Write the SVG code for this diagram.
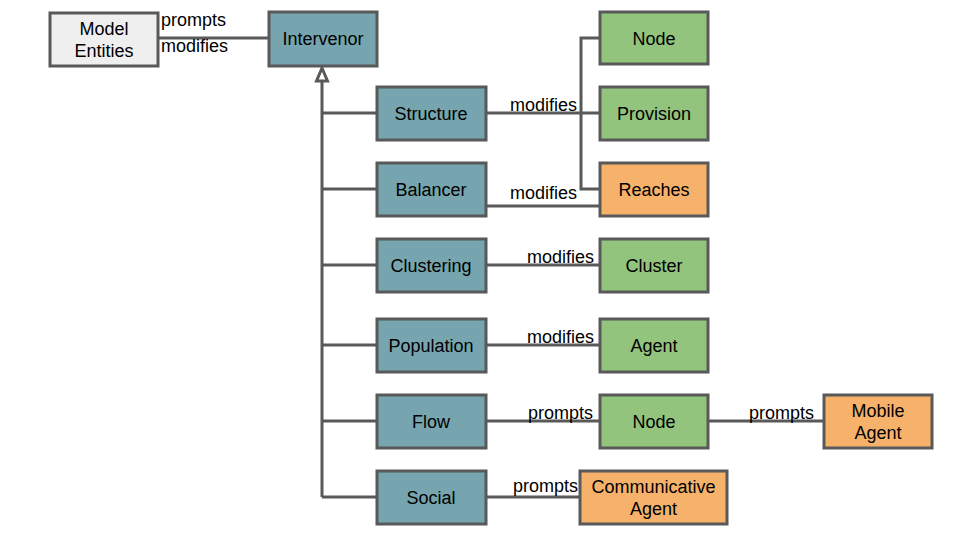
<svg xmlns="http://www.w3.org/2000/svg" width="960" height="540" viewBox="0 0 960 540">
<style>
.b{stroke:#595959;stroke-width:3}
.t{fill:#76A5AF}.g{fill:#93C47D}.o{fill:#F6B26B}.w{fill:#EFEFEF}
text{font-family:"Liberation Sans",Arial,sans-serif;font-size:18px;fill:#000}
.c{text-anchor:middle}
.l{fill:none;stroke:#595959;stroke-width:3}
</style>
<rect width="960" height="540" fill="#fff"/>
<g id="connectors">
<path class="l" d="M158 38H269"/>
<path class="l" d="M322 82V497"/>
<path d="M322 68L316.5 81H327.5Z" fill="#fff" stroke="#595959" stroke-width="3" stroke-linejoin="miter"/>
<path class="l" d="M322 113H377M322 189H377M322 265H377M322 345H377M322 421H377M322 497H377"/>
<path class="l" d="M486 113H600M600 38H581V189H600"/>
<path class="l" d="M486 206H600"/>
<path class="l" d="M486 265H600M486 345H600M486 421H600M708 421H824M486 497H580"/>
<text x="161" y="26">prompts</text>
<text x="161" y="52">modifies</text>
<text x="510" y="111">modifies</text>
<text x="510" y="199">modifies</text>
<text x="527" y="263">modifies</text>
<text x="527" y="343">modifies</text>
<text x="528" y="419">prompts</text>
<text x="749" y="419">prompts</text>
<text x="513" y="492">prompts</text>
</g>
<g id="model-entities"><rect class="b w" x="50" y="13" width="108" height="53"/><text class="c" x="104" y="35">Model</text><text class="c" x="104" y="57">Entities</text></g>
<g id="intervenor"><rect class="b t" x="269" y="12" width="108" height="54"/><text class="c" x="323" y="45">Intervenor</text></g>
<g id="structure"><rect class="b t" x="377" y="87" width="109" height="53"/><text class="c" x="431" y="120">Structure</text></g>
<g id="balancer"><rect class="b t" x="377" y="163" width="109" height="53"/><text class="c" x="431" y="196">Balancer</text></g>
<g id="clustering"><rect class="b t" x="377" y="239" width="109" height="53"/><text class="c" x="431" y="272">Clustering</text></g>
<g id="population"><rect class="b t" x="377" y="319" width="109" height="53"/><text class="c" x="431" y="352">Population</text></g>
<g id="flow"><rect class="b t" x="377" y="395" width="109" height="53"/><text class="c" x="431" y="428">Flow</text></g>
<g id="social"><rect class="b t" x="377" y="471" width="109" height="53"/><text class="c" x="431" y="504">Social</text></g>
<g id="node1"><rect class="b g" x="600" y="12" width="108" height="52"/><text class="c" x="654" y="45">Node</text></g>
<g id="provision"><rect class="b g" x="600" y="87" width="108" height="53"/><text class="c" x="654" y="120">Provision</text></g>
<g id="reaches"><rect class="b o" x="600" y="163" width="108" height="53"/><text class="c" x="654" y="196">Reaches</text></g>
<g id="cluster"><rect class="b g" x="600" y="239" width="108" height="53"/><text class="c" x="654" y="272">Cluster</text></g>
<g id="agent"><rect class="b g" x="600" y="319" width="108" height="53"/><text class="c" x="654" y="352">Agent</text></g>
<g id="node2"><rect class="b g" x="600" y="395" width="108" height="53"/><text class="c" x="654" y="428">Node</text></g>
<g id="mobile-agent"><rect class="b o" x="824" y="395" width="108" height="53"/><text class="c" x="878" y="417">Mobile</text><text class="c" x="878" y="439">Agent</text></g>
<g id="communicative-agent"><rect class="b o" x="580" y="471" width="147" height="53"/><text class="c" x="653.5" y="493">Communicative</text><text class="c" x="653.5" y="515">Agent</text></g>
</svg>
